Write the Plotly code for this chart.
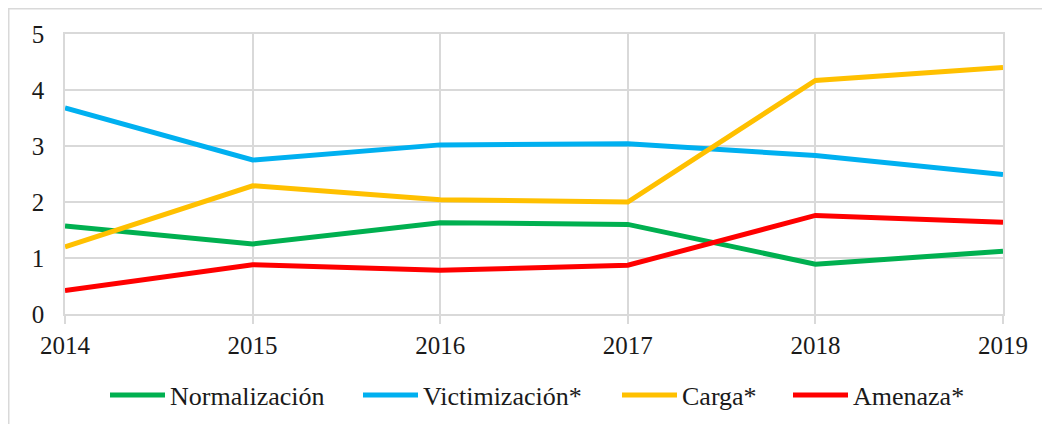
import plotly.graph_objects as go

years = [2014, 2015, 2016, 2017, 2018, 2019]
normalizacion = [1.57, 1.25, 1.63, 1.60, 0.89, 1.12]
victimizacion = [3.68, 2.75, 3.02, 3.04, 2.83, 2.49]
carga = [1.20, 2.29, 2.04, 2.00, 4.17, 4.40]
amenaza = [0.42, 0.88, 0.78, 0.87, 1.76, 1.64]

series = [
    ("Normalización", normalizacion, "#00b050"),
    ("Victimización*", victimizacion, "#00b0f0"),
    ("Carga*", carga, "#ffc000"),
    ("Amenaza*", amenaza, "#ff0000"),
]

FONT = "Liberation Serif, Times New Roman, serif"
GRID = "#d9d9d9"
TXT = "#1a1a1a"

# figure is offset by the page's 8px body margin
W, H = 1034, 416
L, T = 57, 26
pw, ph = 938, 280
R, B = W - L - pw, H - T - ph

legend_names = ["legend", "legend2", "legend3", "legend4"]
legend_left_px = [110, 363, 622, 793]  # page x of each legend symbol start

fig = go.Figure()
for (name, vals, color), lg in zip(series, legend_names):
    fig.add_trace(go.Scatter(x=years, y=vals, name=name, mode="lines", legend=lg,
                             line=dict(color=color, width=5)))

legend_y = (ph - (395 - 8 - T)) / ph
layout_legends = {}
for lg, px in zip(legend_names, legend_left_px):
    layout_legends[lg] = dict(
        orientation="h", x=(px - 8 - L - 5) / pw, xanchor="left",
        y=legend_y, yanchor="middle", bgcolor="rgba(0,0,0,0)",
        font=dict(family=FONT, size=26, color=TXT), itemwidth=55)

fig.update_layout(
    width=W, height=H,
    margin=dict(l=L, r=R, t=T, b=B, autoexpand=False),
    paper_bgcolor="white", plot_bgcolor="white",
    font=dict(family=FONT, color=TXT, size=24),
    showlegend=True,
    xaxis=dict(range=[2014, 2019], tickvals=years, ticktext=[str(y) for y in years],
               automargin=False,
               showgrid=True, gridcolor=GRID, gridwidth=1.5,
               showline=True, linecolor=GRID, linewidth=1.5, mirror=True,
               zeroline=False, ticks="outside", ticklen=8, tickcolor=GRID, tickwidth=1.5,
               tickfont=dict(family=FONT, size=25, color=TXT)),
    yaxis=dict(range=[0, 5], tickvals=[0, 1, 2, 3, 4, 5],
               automargin=False,
               showgrid=True, gridcolor=GRID, gridwidth=1.5,
               showline=True, linecolor=GRID, linewidth=1.5, mirror=True,
               zeroline=False, ticks="", ticklabelstandoff=14,
               tickfont=dict(family=FONT, size=25, color=TXT)),
    shapes=[
        dict(type="rect", xref="paper", yref="paper",
             x0=(0.75 - L) / pw, x1=(W + 20 - L) / pw,
             y0=(ph + T - (H + 20)) / ph, y1=(ph + T - 0.75) / ph,
             line=dict(color=GRID, width=1.5), fillcolor="rgba(0,0,0,0)", layer="below"),
    ],
    **layout_legends,
)

fig.write_html("out.html")
